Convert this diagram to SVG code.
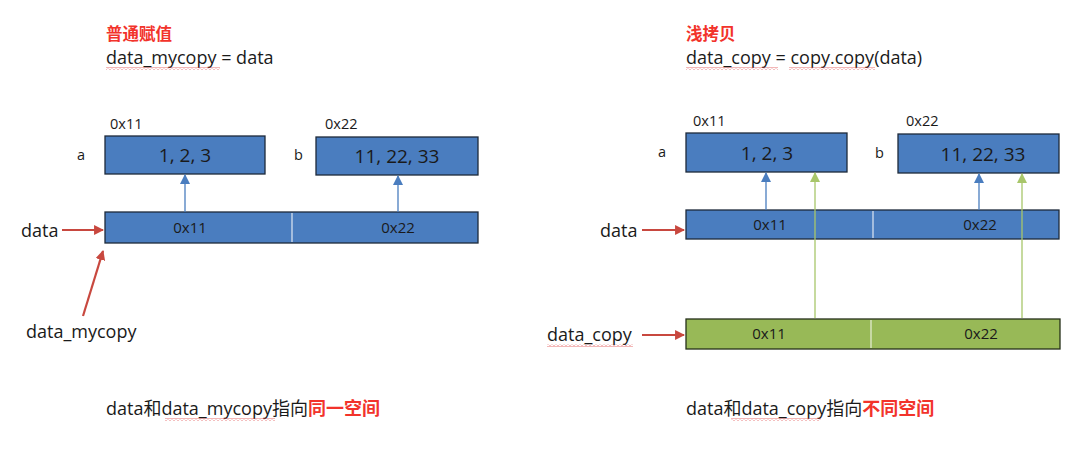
<svg xmlns="http://www.w3.org/2000/svg" width="1079" height="464" viewBox="0 0 1079 464">
<defs>
<style>
text{font-family:"Open Sans","Noto Sans CJK SC",sans-serif;fill:#1a1a1a}
.t{font-size:18px}
.h{font-size:16.5px;font-weight:bold;fill:#f2332b}
.s{font-size:14.5px}
.bx{font-size:19px;text-anchor:middle}
.bl{font-size:15px;text-anchor:middle}
.blue{fill:#4a7dbf;stroke:#1d2a3a;stroke-width:1.3}
.green{fill:#98b957;stroke:#26301a;stroke-width:1.3}
.div{stroke:#dfe8f3;stroke-width:1.2}
.ra{stroke:#c8483f;stroke-width:2.2;fill:none;marker-end:url(#mr)}
.ba{stroke:#4a7dbf;stroke-width:1.3;fill:none;marker-end:url(#mb)}
.ga{stroke:#a8c66a;stroke-width:1.3;fill:none;marker-end:url(#mg)}
.red{fill:#f2332b;font-weight:bold}
</style>
<marker id="mr" viewBox="0 0 10 10" refX="9" refY="5" markerWidth="4.5" markerHeight="4.5" orient="auto" markerUnits="strokeWidth"><path d="M0,0L10,5L0,10z" fill="#c8483f"/></marker>
<marker id="mb" viewBox="0 0 10 10" refX="9" refY="5" markerWidth="8" markerHeight="8" orient="auto" markerUnits="strokeWidth"><path d="M0,0L10,5L0,10z" fill="#4a7dbf"/></marker>
<marker id="mg" viewBox="0 0 10 10" refX="9" refY="5" markerWidth="8" markerHeight="8" orient="auto" markerUnits="strokeWidth"><path d="M0,0L10,5L0,10z" fill="#a8c66a"/></marker>
<pattern id="sq" width="4" height="3" patternUnits="userSpaceOnUse"><path d="M0,2.5L2,0.5L4,2.5" fill="none" stroke="#e04a4a" stroke-width="0.8"/></pattern>
</defs>

<!-- LEFT PANEL -->
<g id="left-title">
<text class="h" x="106" y="40">普通赋值</text>
<text class="t" x="106" y="64">data_mycopy = data</text>
<rect x="106" y="67" width="114" height="3" fill="url(#sq)"/>
</g>
<g id="left-a">
<text class="s" x="110" y="129">0x11</text>
<text class="s" x="77" y="160">a</text>
<rect class="blue" x="105" y="136" width="160" height="38"/>
<text class="bx" x="185" y="162">1, 2, 3</text>
</g>
<g id="left-b">
<text class="s" x="325" y="129">0x22</text>
<text class="s" x="294" y="160">b</text>
<rect class="blue" x="316" y="137" width="162" height="38"/>
<text class="bx" x="397" y="163">11, 22, 33</text>
</g>
<g id="left-data">
<rect class="blue" x="105" y="212" width="373" height="31"/>
<line class="div" x1="292" y1="213" x2="292" y2="242"/>
<text class="bl" x="190" y="233">0x11</text>
<text class="bl" x="398" y="233">0x22</text>
</g>
<g id="left-labels">
<text class="t" x="21" y="237">data</text>
<text class="t" x="26" y="338">data_mycopy</text>
</g>
<g id="left-bottom">
<text class="t" x="106" y="415">data和data_mycopy指向<tspan class="red">同一空间</tspan></text>
<rect x="165" y="418" width="110" height="3" fill="url(#sq)"/>
</g>

<!-- RIGHT PANEL -->
<g id="right-title">
<text class="h" x="686" y="40">浅拷贝</text>
<text class="t" x="686" y="64">data_copy = copy.copy(data)</text>
<rect x="686" y="67" width="92" height="3" fill="url(#sq)"/>
<rect x="789" y="67" width="86" height="3" fill="url(#sq)"/>
</g>
<g id="right-a">
<text class="s" x="693" y="126">0x11</text>
<text class="s" x="658" y="157">a</text>
<rect class="blue" x="686" y="133" width="161" height="39"/>
<text class="bx" x="767" y="160">1, 2, 3</text>
</g>
<g id="right-b">
<text class="s" x="906" y="126">0x22</text>
<text class="s" x="875" y="158">b</text>
<rect class="blue" x="898" y="134" width="161" height="39"/>
<text class="bx" x="983" y="161">11, 22, 33</text>
</g>
<g id="right-data">
<rect class="blue" x="686" y="210" width="373" height="29"/>
<line class="div" x1="873" y1="211" x2="873" y2="238"/>
<text class="bl" x="770" y="230">0x11</text>
<text class="bl" x="980" y="230">0x22</text>
</g>
<g id="right-copy">
<rect class="green" x="686" y="319" width="374" height="30"/>
<line x1="871" y1="320" x2="871" y2="348" stroke="#e8efd8" stroke-width="1.2"/>
<text class="bl" x="769" y="339">0x11</text>
<text class="bl" x="981" y="339">0x22</text>
</g>
<g id="right-labels">
<text class="t" x="600" y="237">data</text>
<text class="t" x="547" y="341">data_copy</text>
<rect x="547" y="344" width="86" height="3" fill="url(#sq)"/>
</g>
<g id="right-bottom">
<text class="t" x="686" y="415">data和data_copy指向<tspan class="red">不同空间</tspan></text>
<rect x="731" y="418" width="90" height="3" fill="url(#sq)"/>
</g>

<!-- CONNECTORS -->
<g id="connectors">
<line class="ra" x1="62" y1="230" x2="103" y2="230"/>
<line class="ra" x1="83" y1="316" x2="103" y2="251"/>
<line class="ba" x1="185" y1="212" x2="185" y2="175"/>
<line class="ba" x1="398" y1="212" x2="398" y2="176"/>
<line class="ra" x1="642" y1="230" x2="684" y2="230"/>
<line class="ra" x1="642" y1="335" x2="684" y2="335"/>
<line class="ba" x1="766" y1="210" x2="766" y2="173"/>
<line class="ba" x1="979" y1="210" x2="979" y2="174"/>
<line class="ga" x1="815" y1="318" x2="815" y2="173"/>
<line class="ga" x1="1022" y1="318" x2="1022" y2="174"/>
</g>
</svg>
